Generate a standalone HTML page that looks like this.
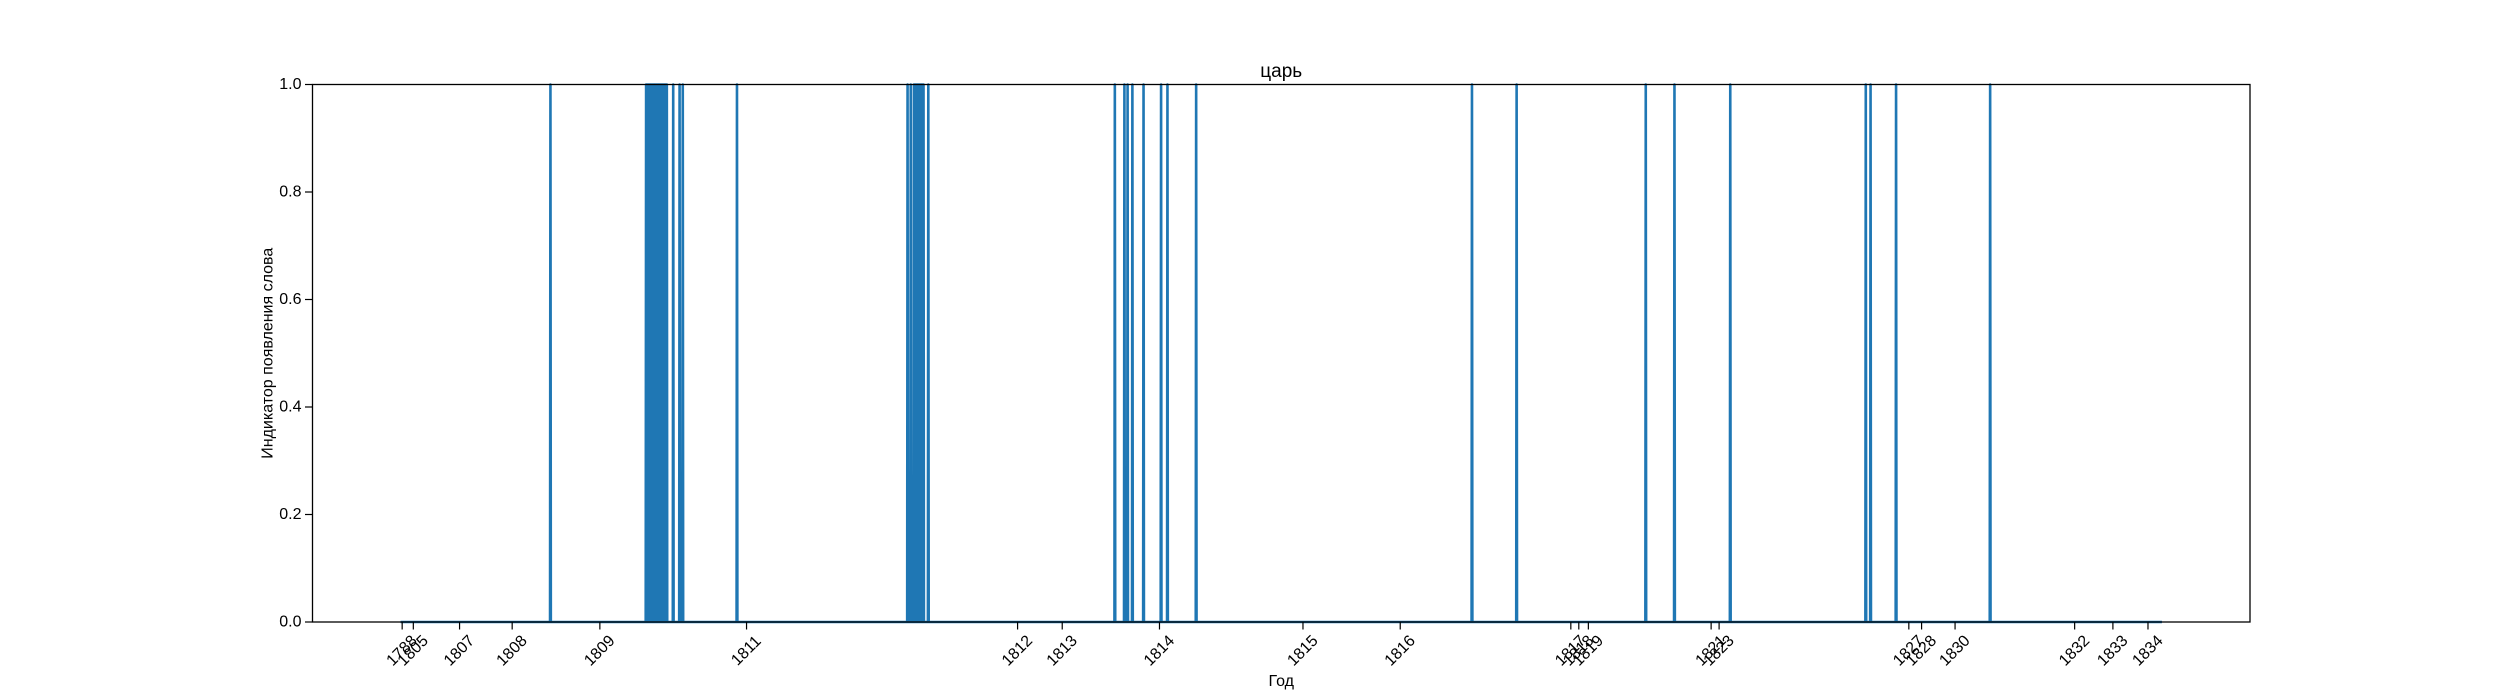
<!DOCTYPE html>
<html><head><meta charset="utf-8">
<style>
html,body{margin:0;padding:0;background:#fff;}
svg{display:block;font-family:"Liberation Sans","DejaVu Sans",sans-serif;}
</style></head>
<body>
<svg id="chart" width="2500" height="700" viewBox="0 0 2500 700">
<rect width="2500" height="700" fill="#fff"/>
<g id="plot"></g>
</svg>
<script>
// Data: document index positions (x) where the word appears, tick positions and labels
const nDocs = 4420;
const occurrences = [376,
 616,618,620,622,624,626,628,630,632,634,636,638,640,642,644,646,648,650,652,654,656,658,660,662,664,666,668,
 684,700,708,844,1272,1280,1288,1290,1292,1294,1296,1298,1300,1302,1304,1306,1308,1310,1312,1324,
 1792,1816,1824,1836,1864,1908,1924,1996,2688,2800,3124,3196,3336,3676,3688,3752,3988];
const tickPositions = [4,32,148,280,500,868,1548,1660,1904,2264,2508,2936,2956,2980,3288,3308,3784,3816,3900,4200,4296,4384];
const tickLabels = ["1788","1805","1807","1808","1809","1811","1812","1813","1814","1815","1816","1817","1818","1819","1821","1823","1827","1828","1830","1832","1833","1834"];
const yTicks = [0,0.2,0.4,0.6,0.8,1.0];
const yTickLabels = ["0.0","0.2","0.4","0.6","0.8","1.0"];

const NS="http://www.w3.org/2000/svg";
const L=312.5,R=2250,T=84.5,B=622;
const xlo=-(nDocs-1)*0.05, xhi=(nDocs-1)*1.05;
const X=v=>L+(v-xlo)/(xhi-xlo)*(R-L);
const Y=v=>B-v*(B-T);
const g=document.getElementById('plot');
function mk(tag,attrs){const e=document.createElementNS(NS,tag);for(const k in attrs)e.setAttribute(k,attrs[k]);g.appendChild(e);return e;}

// series
const occSet=new Set(occurrences);
let pts=[];
for(let i=0;i<nDocs;i++){pts.push(X(i).toFixed(2)+','+Y(occSet.has(i)?1:0).toFixed(2));}
const line=mk('polyline',{points:pts.join(' '),fill:'none',stroke:'#1f77b4','stroke-width':2.6,'stroke-linejoin':'round'});



// axes frame
const frame=mk('rect',{x:L,y:T,width:R-L,height:B-T,fill:'none',stroke:'#000','stroke-width':1.3});



// x ticks
tickPositions.forEach((p,i)=>{
  const x=X(p);
  const t=mk('line',{x1:x,y1:B,x2:x,y2:B+7.5,stroke:'#000','stroke-width':1.2});
  
  
  const cy=651;
  const tx=mk('text',{x:x,y:cy,'font-size':16,'text-anchor':'middle','dominant-baseline':'central',transform:`rotate(-45 ${x} ${cy})`,fill:'#000'});
  tx.textContent=tickLabels[i];
  
  
});

// y ticks
yTicks.forEach((v,i)=>{
  const y=Y(v);
  const t=mk('line',{x1:L-7.5,y1:y,x2:L,y2:y,stroke:'#000','stroke-width':1.2});
  
  
  const tx=mk('text',{x:L-11,y:y,'font-size':16,'text-anchor':'end','dominant-baseline':'central',fill:'#000'});
  tx.textContent=yTickLabels[i];
  
  
});

// titles
const title=mk('text',{x:(L+R)/2,y:77,'font-size':19,'text-anchor':'middle',fill:'#000'});
title.textContent='царь';


const xl=mk('text',{x:(L+R)/2,y:686,'font-size':16,'text-anchor':'middle',fill:'#000'});
xl.textContent='Год';


const yc=(T+B)/2;
const yl=mk('text',{x:268,y:yc,'font-size':16,'text-anchor':'middle','dominant-baseline':'central',transform:`rotate(-90 268 ${yc})`,fill:'#000'});
yl.textContent='Индикатор появления слова';


</script>
</body></html>
